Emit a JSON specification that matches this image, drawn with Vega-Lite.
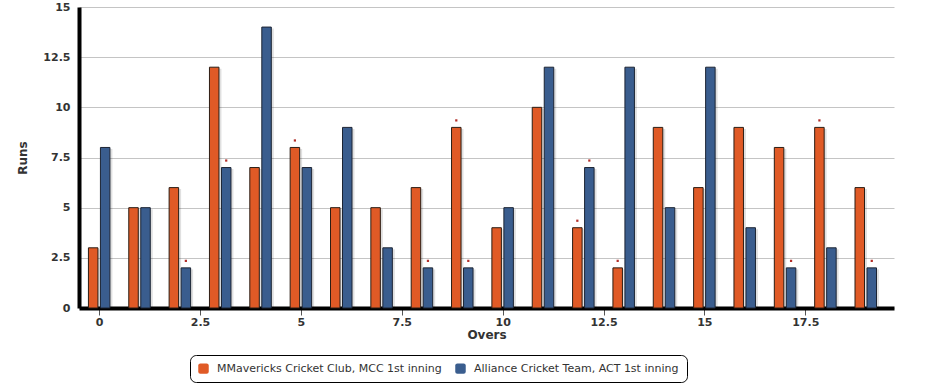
{
  "$schema": "https://vega.github.io/schema/vega-lite/v6.json",
  "width": 815,
  "height": 301,
  "autosize": {"type": "none"},
  "padding": {"left": 79, "top": 7, "right": 32, "bottom": 82},
  "background": "white",
  "config": {"view": {"stroke": null}},
  "data": {
    "values": [
      {"over": 0, "team": "MMavericks Cricket Club, MCC 1st inning", "runs": 3, "wicket": 0},
      {"over": 1, "team": "MMavericks Cricket Club, MCC 1st inning", "runs": 5, "wicket": 0},
      {"over": 2, "team": "MMavericks Cricket Club, MCC 1st inning", "runs": 6, "wicket": 0},
      {"over": 3, "team": "MMavericks Cricket Club, MCC 1st inning", "runs": 12, "wicket": 0},
      {"over": 4, "team": "MMavericks Cricket Club, MCC 1st inning", "runs": 7, "wicket": 0},
      {"over": 5, "team": "MMavericks Cricket Club, MCC 1st inning", "runs": 8, "wicket": 1},
      {"over": 6, "team": "MMavericks Cricket Club, MCC 1st inning", "runs": 5, "wicket": 0},
      {"over": 7, "team": "MMavericks Cricket Club, MCC 1st inning", "runs": 5, "wicket": 0},
      {"over": 8, "team": "MMavericks Cricket Club, MCC 1st inning", "runs": 6, "wicket": 0},
      {"over": 9, "team": "MMavericks Cricket Club, MCC 1st inning", "runs": 9, "wicket": 1},
      {"over": 10, "team": "MMavericks Cricket Club, MCC 1st inning", "runs": 4, "wicket": 0},
      {"over": 11, "team": "MMavericks Cricket Club, MCC 1st inning", "runs": 10, "wicket": 0},
      {"over": 12, "team": "MMavericks Cricket Club, MCC 1st inning", "runs": 4, "wicket": 1},
      {"over": 13, "team": "MMavericks Cricket Club, MCC 1st inning", "runs": 2, "wicket": 1},
      {"over": 14, "team": "MMavericks Cricket Club, MCC 1st inning", "runs": 9, "wicket": 0},
      {"over": 15, "team": "MMavericks Cricket Club, MCC 1st inning", "runs": 6, "wicket": 0},
      {"over": 16, "team": "MMavericks Cricket Club, MCC 1st inning", "runs": 9, "wicket": 0},
      {"over": 17, "team": "MMavericks Cricket Club, MCC 1st inning", "runs": 8, "wicket": 0},
      {"over": 18, "team": "MMavericks Cricket Club, MCC 1st inning", "runs": 9, "wicket": 1},
      {"over": 19, "team": "MMavericks Cricket Club, MCC 1st inning", "runs": 6, "wicket": 0},
      {"over": 0, "team": "Alliance Cricket Team, ACT 1st inning", "runs": 8, "wicket": 0},
      {"over": 1, "team": "Alliance Cricket Team, ACT 1st inning", "runs": 5, "wicket": 0},
      {"over": 2, "team": "Alliance Cricket Team, ACT 1st inning", "runs": 2, "wicket": 1},
      {"over": 3, "team": "Alliance Cricket Team, ACT 1st inning", "runs": 7, "wicket": 1},
      {"over": 4, "team": "Alliance Cricket Team, ACT 1st inning", "runs": 14, "wicket": 0},
      {"over": 5, "team": "Alliance Cricket Team, ACT 1st inning", "runs": 7, "wicket": 0},
      {"over": 6, "team": "Alliance Cricket Team, ACT 1st inning", "runs": 9, "wicket": 0},
      {"over": 7, "team": "Alliance Cricket Team, ACT 1st inning", "runs": 3, "wicket": 0},
      {"over": 8, "team": "Alliance Cricket Team, ACT 1st inning", "runs": 2, "wicket": 1},
      {"over": 9, "team": "Alliance Cricket Team, ACT 1st inning", "runs": 2, "wicket": 1},
      {"over": 10, "team": "Alliance Cricket Team, ACT 1st inning", "runs": 5, "wicket": 0},
      {"over": 11, "team": "Alliance Cricket Team, ACT 1st inning", "runs": 12, "wicket": 0},
      {"over": 12, "team": "Alliance Cricket Team, ACT 1st inning", "runs": 7, "wicket": 1},
      {"over": 13, "team": "Alliance Cricket Team, ACT 1st inning", "runs": 12, "wicket": 0},
      {"over": 14, "team": "Alliance Cricket Team, ACT 1st inning", "runs": 5, "wicket": 0},
      {"over": 15, "team": "Alliance Cricket Team, ACT 1st inning", "runs": 12, "wicket": 0},
      {"over": 16, "team": "Alliance Cricket Team, ACT 1st inning", "runs": 4, "wicket": 0},
      {"over": 17, "team": "Alliance Cricket Team, ACT 1st inning", "runs": 2, "wicket": 1},
      {"over": 18, "team": "Alliance Cricket Team, ACT 1st inning", "runs": 3, "wicket": 0},
      {"over": 19, "team": "Alliance Cricket Team, ACT 1st inning", "runs": 2, "wicket": 1}
    ]
  },
  "encoding": {
    "x": {
      "field": "over",
      "type": "quantitative",
      "scale": {"domain": [-0.5, 19.7], "nice": false, "zero": false, "padding": 0},
      "axis": {
        "values": [0, 2.5, 5, 7.5, 10, 12.5, 15, 17.5],
        "labelExpr": "'' + datum.value",
        "title": "Overs",
        "grid": false,
        "domainColor": "black",
        "domainWidth": 4,
        "tickColor": "#555555",
        "tickSize": 7,
        "tickWidth": 1,
        "labelPadding": 1,
        "labelFlush": false,
        "labelFont": "DejaVu Sans",
        "labelFontWeight": "bold",
        "labelFontSize": 11,
        "labelColor": "#333333",
        "titleFont": "DejaVu Sans",
        "titleFontSize": 12,
        "titleFontWeight": "bold",
        "titleColor": "#333333",
        "titlePadding": 2
      }
    },
    "y": {
      "field": "runs",
      "type": "quantitative",
      "scale": {"domain": [0, 15], "nice": false, "padding": 0},
      "axis": {
        "values": [0, 2.5, 5, 7.5, 10, 12.5, 15],
        "labelExpr": "'' + datum.value",
        "title": "Runs",
        "grid": true,
        "gridColor": "#c4c4c4",
        "gridWidth": 1,
        "ticks": false,
        "domainColor": "black",
        "domainWidth": 4,
        "labelPadding": 9,
        "labelFont": "DejaVu Sans",
        "labelFontWeight": "bold",
        "labelFontSize": 11,
        "labelColor": "#333333",
        "titleFont": "DejaVu Sans",
        "titleFontSize": 12,
        "titleFontWeight": "bold",
        "titleColor": "#333333",
        "titlePadding": 13
      }
    }
  },
  "layer": [
    {
      "transform": [{"filter": "datum.team === 'MMavericks Cricket Club, MCC 1st inning'"}],
      "mark": {"type": "bar", "width": 9.5, "xOffset": -3.5, "yOffset": 1.5, "color": "#000000", "opacity": 0.12}
    },
    {
      "transform": [{"filter": "datum.team === 'Alliance Cricket Team, ACT 1st inning'"}],
      "mark": {"type": "bar", "width": 9.5, "xOffset": 8.5, "yOffset": 1.5, "color": "#000000", "opacity": 0.12}
    },
    {
      "transform": [{"filter": "datum.team === 'MMavericks Cricket Club, MCC 1st inning'"}],
      "mark": {"type": "bar", "width": 9.5, "xOffset": -6, "stroke": "#2b1d14", "strokeWidth": 1},
      "encoding": {
        "color": {
          "field": "team",
          "type": "nominal",
          "scale": {
            "domain": ["MMavericks Cricket Club, MCC 1st inning", "Alliance Cricket Team, ACT 1st inning"],
            "range": ["#E05A26", "#3A5D8E"]
          },
          "legend": {
            "orient": "none",
            "legendX": 111,
            "legendY": 348,
            "direction": "horizontal",
            "title": null,
            "strokeColor": "black",
            "cornerRadius": 6,
            "padding": 8,
            "symbolType": "M-1,-0.6Q-1,-1,-0.6,-1H0.6Q1,-1,1,-0.6V0.6Q1,1,0.6,1H-0.6Q-1,1,-1,0.6Z",
            "symbolSize": 110,
            "symbolStrokeWidth": 0,
            "labelFont": "DejaVu Sans",
            "labelFontSize": 11,
            "labelColor": "#333333",
            "labelOffset": 8,
            "labelLimit": 400,
            "columnPadding": 13,
            "encode": {"legend": {"update": {"strokeWidth": {"value": 2}}}}
          }
        }
      }
    },
    {
      "transform": [{"filter": "datum.team === 'Alliance Cricket Team, ACT 1st inning'"}],
      "mark": {"type": "bar", "width": 9.5, "xOffset": 6, "stroke": "#1c2433", "strokeWidth": 1},
      "encoding": {
        "color": {"field": "team", "type": "nominal"}
      }
    },
    {
      "transform": [{"filter": "datum.wicket === 1 && datum.team === 'MMavericks Cricket Club, MCC 1st inning'"}],
      "mark": {"type": "square", "size": 5, "color": "#b3302a", "opacity": 1, "xOffset": -6, "yOffset": -7}
    },
    {
      "transform": [{"filter": "datum.wicket === 1 && datum.team === 'Alliance Cricket Team, ACT 1st inning'"}],
      "mark": {"type": "square", "size": 5, "color": "#b3302a", "opacity": 1, "xOffset": 6, "yOffset": -7}
    }
  ]
}
